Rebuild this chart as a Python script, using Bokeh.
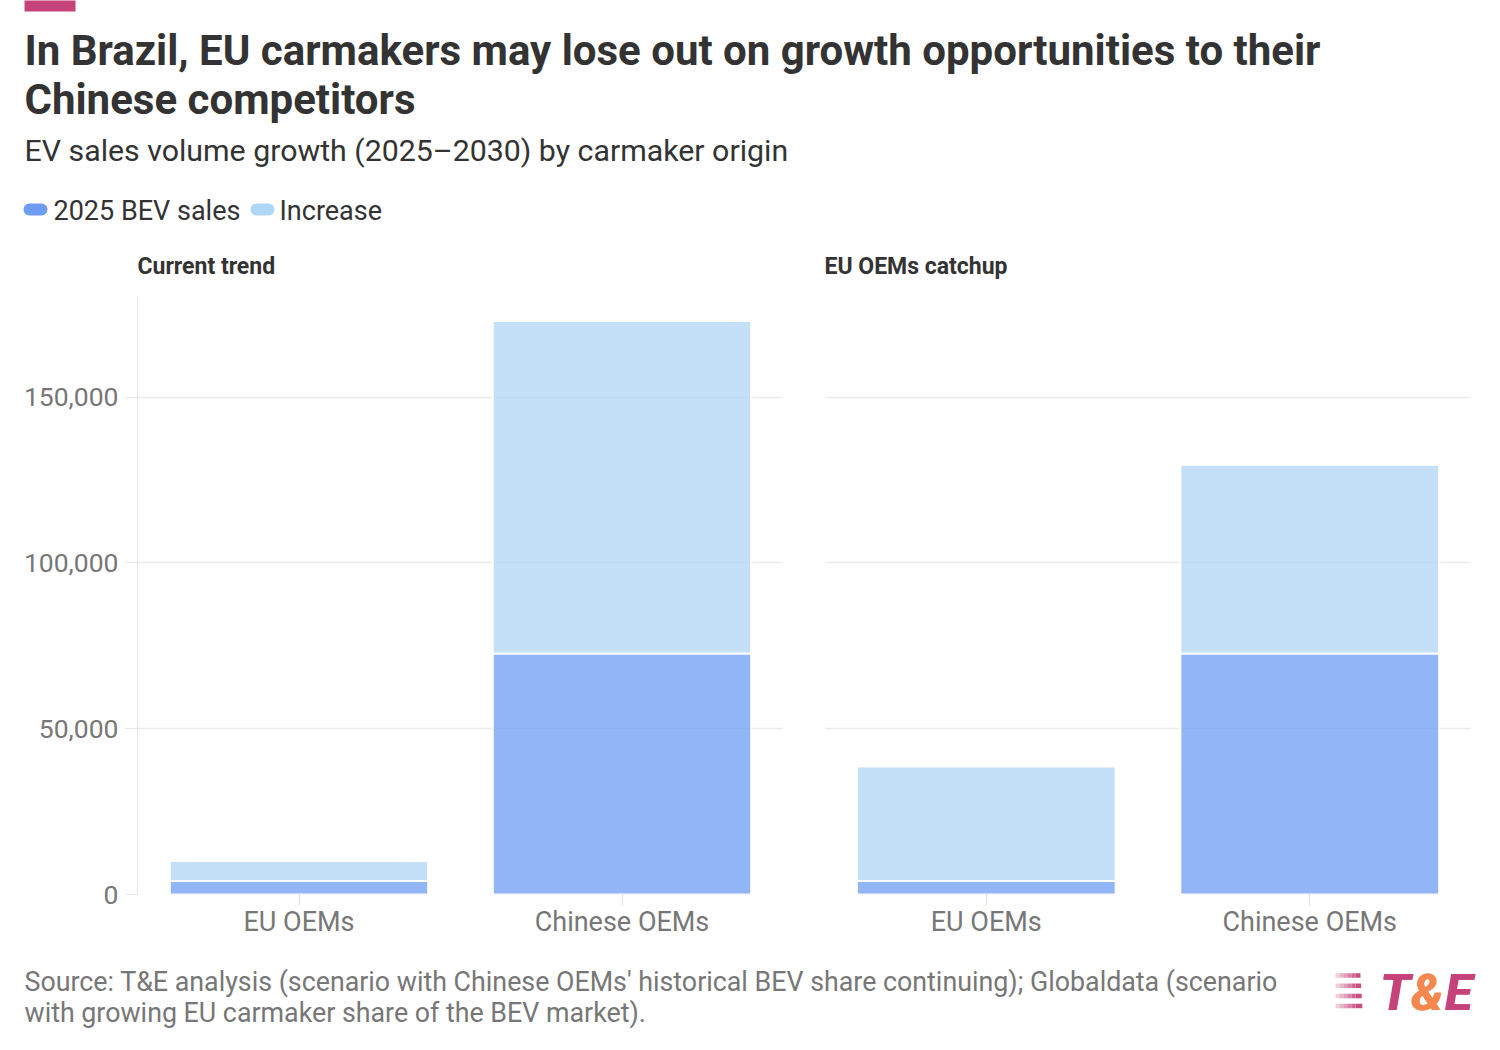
from bokeh.plotting import figure
from bokeh.models import Range1d, FactorRange, Label, FixedTicker, NumeralTickFormatter, ColumnDataSource
from bokeh.layouts import column, row
from bokeh.embed import file_html
from bokeh.resources import INLINE

# ---- data ----
categories = ["EU OEMs", "Chinese OEMs"]
series_names = ["2025 BEV sales", "Increase"]
panel_titles = ["Current trend", "EU OEMs catchup"]
base_current = [4100, 72700]
increase_current = [6000, 100200]
base_catchup = [4100, 72700]
increase_catchup = [34500, 56900]
y_ticks = [0, 50000, 100000, 150000]
y_max = 180000

title_lines = ["In Brazil, EU carmakers may lose out on growth opportunities to their",
               "Chinese competitors"]
subtitle = "EV sales volume growth (2025\u20132030) by carmaker origin"
source_lines = ["Source: T&E analysis (scenario with Chinese OEMs' historical BEV share continuing); Globaldata (scenario",
                "with growing EU carmaker share of the BEV market)."]

C_BASE = "#6d9cf2"
C_INC = "#b0d6f5"
FONT = "Roboto"
DARK = "#333333"
GREY = "#777777"
PINK = "#c5437a"
ORANGE = "#f5874f"

W = 1484
H_HEAD = 280
H_PANEL = 665
H_FOOT = 89


def blank(w, h):
    p = figure(width=w, height=h, x_range=Range1d(0, w), y_range=Range1d(h, 0),
               x_axis_type=None, y_axis_type=None, toolbar_location=None,
               output_backend="svg", min_border=0, title=None)
    p.grid.visible = False
    p.outline_line_color = None
    return p


def label(p, x, y, text, size, color=DARK, style="normal"):
    # y is the wanted baseline; compensate the renderer's baseline offset
    p.add_layout(Label(x=x, y=y - 0.27 * size, text=text, text_font=FONT,
                       text_font_size=f"{size}px", text_color=color,
                       text_font_style=style, text_baseline="alphabetic",
                       text_align="left"))


# ---- header ----
head = blank(W, H_HEAD)
head.quad(left=24, right=75, top=-2, bottom=11, fill_color=PINK, line_color=None)
label(head, 24, 61.5, title_lines[0], 42, DARK, "bold")
label(head, 24, 110.5, title_lines[1], 42, DARK, "bold")
label(head, 24, 158.5, subtitle, 30.3, DARK)
head.segment(x0=[29, 256], y0=[209, 209], x1=[41, 268], y1=[209, 209],
             line_color=[C_BASE, C_INC], line_width=12, line_cap="round")
label(head, 53, 217.5, series_names[0], 27, DARK)
label(head, 279, 217.5, series_names[1], 27, DARK)
label(head, 137, 272, panel_titles[0], 23, DARK, "bold")
label(head, 824, 272, panel_titles[1], 23, DARK, "bold")


# ---- panels ----
def panel(w, bl, br, base, inc, show_y):
    p = figure(width=w, height=H_PANEL, x_range=FactorRange(*categories),
               y_range=Range1d(0, y_max), toolbar_location=None, output_backend="svg",
               min_border_left=bl, min_border_right=br, min_border_top=17, min_border_bottom=51,
               title=None)
    src = ColumnDataSource(dict(cat=categories, base=base, inc=inc))
    p.vbar_stack(["base", "inc"], x="cat", width=0.8, source=src,
                 fill_color=[C_BASE, C_INC], fill_alpha=0.75,
                 line_color="white", line_width=2)
    p.outline_line_color = None
    p.xgrid.visible = False
    p.ygrid.grid_line_color = "#ebebeb"
    p.ygrid.grid_line_width = 1.5
    p.yaxis.ticker = FixedTicker(ticks=y_ticks)
    p.yaxis.formatter = NumeralTickFormatter(format="0,0")
    p.yaxis.axis_line_color = "#e6e6e6"
    p.yaxis.major_tick_line_color = "#e6e6e6"
    p.yaxis.major_tick_out = 12
    p.yaxis.major_tick_in = 0
    p.yaxis.minor_tick_line_color = None
    p.yaxis.major_label_text_font = FONT
    p.yaxis.major_label_text_font_size = "26.5px"
    p.yaxis.major_label_text_color = GREY
    p.yaxis.major_label_standoff = 7
    if not show_y:
        p.yaxis.visible = False
    p.xaxis.axis_line_color = None
    p.xaxis.major_tick_line_color = "#e0e0e0"
    p.xaxis.major_tick_out = 11
    p.xaxis.major_tick_in = 0
    p.xaxis.major_label_text_font = FONT
    p.xaxis.major_label_text_font_size = "27px"
    p.xaxis.major_label_text_color = GREY
    p.xaxis.major_label_standoff = 0
    return p


left = panel(803, 137, 20, base_current, increase_current, True)
right = panel(681, 21, 13, base_catchup, increase_catchup, False)

# ---- footer ----
foot = blank(W, H_FOOT)
label(foot, 24, 43.5, source_lines[0], 26.8, GREY)
label(foot, 24, 74.5, source_lines[1], 26.8, GREY)
# logo stripes (gradient approximated by steps)
for k, top in enumerate([27.7, 38, 48.3, 58.3]):
    for i in range(6):
        foot.quad(left=1335 + i * 4, right=1339 + i * 4 + (1 + k * 0.6 if i == 5 else 0),
                  top=top, bottom=top + 4.5, fill_color=PINK,
                  fill_alpha=0.25 + 0.14 * i, line_color=None)
for dx in (0, 1.2):
    label(foot, 1379 + dx, 61, "T", 50, PINK, "bold italic")
    label(foot, 1410 + dx, 61, "&", 50, ORANGE, "bold italic")
    label(foot, 1444 + dx, 61, "E", 50, PINK, "bold italic")

layout = column(head, row(left, right), foot)
open("out.html", "w").write(file_html(layout, INLINE))
